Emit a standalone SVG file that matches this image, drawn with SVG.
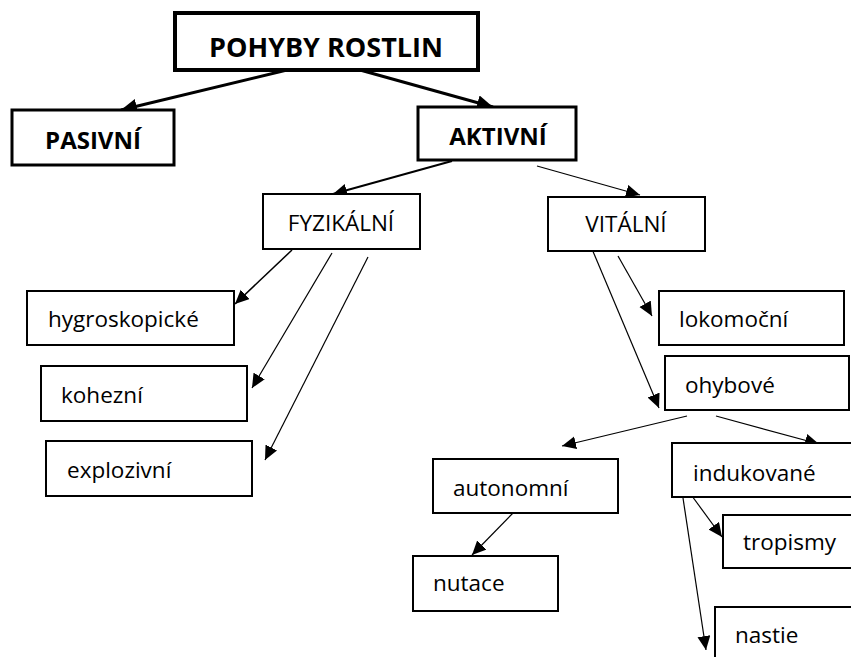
<svg xmlns="http://www.w3.org/2000/svg" width="851" height="657" viewBox="0 0 851 657">
<style>
  .box { fill: #fff; stroke: #000; stroke-width: 2; }
  .b3 { stroke-width: 3; }
  .b4 { stroke-width: 4; }
  .t { font-family: "Open Sans", "Noto Sans", "Liberation Sans", sans-serif; font-size: 22.5px; fill: #000; }
  .tb { font-family: "Open Sans", "Noto Sans", "Liberation Sans", sans-serif; font-weight: bold; fill: #000; text-anchor: middle; }
  .tc { text-anchor: middle; }
  .c { stroke: #000; fill: none; stroke-width: 1.2; marker-end: url(#ah); }
  .c2 { stroke-width: 2; }
  .c3 { stroke-width: 3; marker-end: url(#ahb); }
</style>
<defs>
  <marker id="ah" markerUnits="userSpaceOnUse" markerWidth="16" markerHeight="14" refX="14" refY="6.5" orient="auto">
    <path d="M0,0 L14,6.5 L0,13 z" fill="#000"/>
  </marker>
  <marker id="ahb" markerUnits="userSpaceOnUse" markerWidth="18" markerHeight="16" refX="16" refY="7.5" orient="auto">
    <path d="M0,0 L16,7.5 L0,15 z" fill="#000"/>
  </marker>
</defs>
<rect width="851" height="657" fill="#fff"/>
<g id="connectors">
  <line class="c c3" x1="287" y1="70" x2="121" y2="110"/>
  <line class="c c3" x1="360" y1="70" x2="493" y2="107"/>
  <line class="c c2" x1="452" y1="161" x2="333" y2="194"/>
  <line class="c" x1="537" y1="166" x2="640" y2="195"/>
  <line class="c" style="stroke-width:1.5" x1="292" y1="250" x2="235" y2="304"/>
  <line class="c" x1="332" y1="253" x2="252" y2="388"/>
  <line class="c" x1="368" y1="257" x2="265" y2="460"/>
  <line class="c" x1="618" y1="256" x2="652" y2="316"/>
  <line class="c" x1="592" y1="249" x2="659" y2="408"/>
  <line class="c" x1="687" y1="416" x2="562" y2="446"/>
  <line class="c" x1="716" y1="416" x2="819" y2="444"/>
  <line class="c" x1="513" y1="513" x2="472" y2="555"/>
  <line class="c" x1="692" y1="496" x2="722" y2="537"/>
  <line class="c" x1="683" y1="498" x2="706" y2="650"/>
</g>
<g id="pohyby">
  <rect class="box b4" x="175" y="13" width="303" height="57"/>
  <text class="tb" x="326" y="57" font-size="27">POHYBY ROSTLIN</text>
</g>
<g id="pasivni">
  <rect class="box b3" x="12" y="110" width="162" height="55"/>
  <text class="tb" x="93" y="149" font-size="24">PASIVNÍ</text>
</g>
<g id="aktivni">
  <rect class="box b3" x="418" y="107" width="158" height="53"/>
  <text class="tb" x="498" y="145" font-size="24">AKTIVNÍ</text>
</g>
<g id="fyzikalni">
  <rect class="box" x="263" y="194" width="157" height="55"/>
  <text class="t tc" x="341" y="231">FYZIKÁLNÍ</text>
</g>
<g id="vitalni">
  <rect class="box" x="548" y="197" width="157" height="54"/>
  <text class="t tc" x="626" y="232">VITÁLNÍ</text>
</g>
<g id="hygroskopicke">
  <rect class="box" x="27" y="291" width="207" height="54"/>
  <text class="t" x="48" y="327">hygroskopické</text>
</g>
<g id="kohezni">
  <rect class="box" x="41" y="366" width="206" height="55"/>
  <text class="t" x="61" y="403">kohezní</text>
</g>
<g id="explozivni">
  <rect class="box" x="46" y="441" width="206" height="55"/>
  <text class="t" x="67" y="478">explozivní</text>
</g>
<g id="lokomocni">
  <rect class="box" x="659" y="291" width="185" height="54"/>
  <text class="t" x="679" y="327">lokomoční</text>
</g>
<g id="ohybove">
  <rect class="box" x="665" y="356" width="184" height="54"/>
  <text class="t" x="685" y="393">ohybové</text>
</g>
<g id="autonomni">
  <rect class="box" x="433" y="459" width="185" height="54"/>
  <text class="t" x="453" y="496">autonomní</text>
</g>
<g id="indukovane">
  <rect class="box" x="672" y="443" width="200" height="54"/>
  <text class="t" x="693" y="481">indukované</text>
</g>
<g id="nutace">
  <rect class="box" x="413" y="556" width="145" height="55"/>
  <text class="t" x="433" y="591">nutace</text>
</g>
<g id="tropismy">
  <rect class="box" x="723" y="515" width="150" height="53"/>
  <text class="t" x="743" y="550">tropismy</text>
</g>
<g id="nastie">
  <rect class="box" x="715" y="607" width="160" height="70"/>
  <text class="t" x="735" y="643">nastie</text>
</g>
</svg>
